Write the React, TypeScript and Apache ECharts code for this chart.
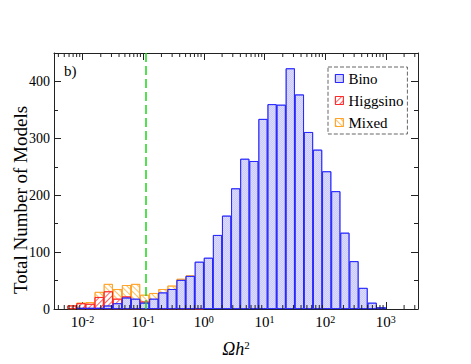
import React, { useEffect, useRef } from "react";
import * as echarts from "echarts";

// Histogram bins: lower edge of each bin in log10(Ωh²); all bins have the same width
const BIN_LOW_LOG10 = [
  -2.25, -2.1, -1.95, -1.8, -1.65, -1.5, -1.35, -1.2, -1.05, -0.9, -0.75, -0.6, -0.45, -0.3, -0.15,
  0, 0.15, 0.3, 0.45, 0.6, 0.75, 0.9, 1.05, 1.2, 1.35, 1.5, 1.65, 1.8, 1.95, 2.1, 2.25, 2.4, 2.55, 2.7, 2.85,
];
const BIN_WIDTH_LOG10 = 0.15;

const BINO = [
  0, 2, 2, 2, 6, 10, 20, 18, 11, 18, 29, 35, 51, 58, 83,
  90, 130, 164, 212, 264, 260, 334, 360, 359, 423, 377, 311, 280, 242, 207, 134, 84, 37, 11, 3,
];
const HIGGSINO = [
  6, 10, 9, 21, 31, 18, 22, 16, 13, 6, 5, 4, 3, 2, 1,
  0, 0, 0, 0, 0, 0, 0, 0, 0, 0, 0, 0, 0, 0, 0, 0, 0, 0, 0, 0,
];
const MIXED = [
  6, 11, 12, 30, 44, 35, 42, 44, 25, 28, 35, 41, 53, 59, 15,
  0, 0, 0, 0, 0, 0, 0, 0, 0, 0, 0, 0, 0, 0, 0, 0, 0, 0, 0, 0,
];

const Y_TICKS = [0, 100, 200, 300, 400];
const X_DECADES = [-2, -1, 0, 1, 2, 3];
const DASHED_AT = 0.11;

const XMIN_LOG = -2.47;
const XMAX_LOG = 3.53;

const FONT = "Liberation Serif";
const AXIS = "#222";

export default function App() {
  const ref = useRef<HTMLDivElement>(null);

  useEffect(() => {
    if (!ref.current) return;
    const chart = echarts.init(ref.current, undefined, { renderer: "svg" });

    const toData = (arr: number[]) =>
      BIN_LOW_LOG10.map((lo, i) => [lo + BIN_WIDTH_LOG10 / 2, arr[i] > 0 ? arr[i] : "-"]);

    const minorTicks: number[][] = [];
    for (let d = -3; d <= 3; d++) {
      for (let k = 2; k <= 9; k++) {
        const v = d + Math.log10(k);
        if (v > XMIN_LOG && v < XMAX_LOG) minorTicks.push([v, 0]);
      }
    }

    const logLabel = (v: number) => {
      const l = Math.log10(v);
      const e = Math.round(l);
      if (Math.abs(l - e) > 1e-6 || !X_DECADES.includes(e)) return "";
      return `{b|10}{s|${e}}`;
    };

    const barCommon = {
      type: "bar" as const,
      xAxisIndex: 0,
      yAxisIndex: 0,
      barWidth: "100%",
      barGap: "-100%",
    };

    const yCommon = {
      type: "value" as const,
      min: 0,
      max: 450,
      interval: 100,
      axisLine: { show: true, onZero: false, lineStyle: { color: AXIS, width: 1 } },
      axisTick: { show: true, inside: true, length: 7, lineStyle: { color: AXIS } },
      minorTick: { show: true, splitNumber: 2, length: 4, lineStyle: { color: AXIS } },
      splitLine: { show: false },
    };

    chart.setOption({
      animation: false,
      backgroundColor: "#fff",
      textStyle: { fontFamily: FONT },
      grid: { left: 54, right: 53, top: 53, bottom: 55, containLabel: false },
      legend: {
        data: ["Bino", "Higgsino", "Mixed"],
        orient: "vertical",
        left: 328,
        top: 67,
        icon: "rect",
        itemWidth: 8,
        itemHeight: 8,
        itemGap: 7,
        itemStyle: { borderWidth: 0.8 },
        padding: [4, 4, 4, 7],
        borderColor: "#666",
        borderWidth: 1,
        borderType: "dashed",
        textStyle: { fontFamily: FONT, fontSize: 15, color: "#000", lineHeight: 8 },
        selectedMode: false,
      },
      xAxis: [
        { type: "value", min: XMIN_LOG, max: XMAX_LOG, show: false },
        {
          type: "log",
          logBase: 10,
          min: Math.pow(10, XMIN_LOG),
          max: Math.pow(10, XMAX_LOG),
          position: "bottom",
          axisLine: { show: true, onZero: false, lineStyle: { color: AXIS, width: 1 } },
          axisTick: { show: true, inside: true, length: 7, lineStyle: { color: AXIS } },
          splitLine: { show: false },
          axisLabel: {
            show: true,
            margin: 5,
            fontFamily: FONT,
            color: "#000",
            formatter: logLabel,
            rich: {
              b: { fontFamily: FONT, fontSize: 15, color: "#000", lineHeight: 15, verticalAlign: "bottom", padding: [6, 0, 0, 0] },
              s: { fontFamily: FONT, fontSize: 10, color: "#000", lineHeight: 10, verticalAlign: "top" },
            },
          },
          name: "{i|Ωh}{s|2}",
          nameLocation: "middle",
          nameGap: 27,
          nameTextStyle: {
            fontFamily: FONT,
            color: "#000",
            rich: {
              i: { fontFamily: FONT, fontSize: 18, fontStyle: "italic", color: "#000", lineHeight: 18, verticalAlign: "bottom", padding: [6, 0, 0, 0] },
              s: { fontFamily: FONT, fontSize: 11, color: "#000", lineHeight: 11, verticalAlign: "top" },
            },
          },
        },
        {
          type: "log",
          logBase: 10,
          min: Math.pow(10, XMIN_LOG),
          max: Math.pow(10, XMAX_LOG),
          position: "top",
          axisLine: { show: true, onZero: false, lineStyle: { color: AXIS, width: 1 } },
          axisTick: { show: true, inside: true, length: 7, lineStyle: { color: AXIS } },
          splitLine: { show: false },
          axisLabel: { show: false },
        },
      ],
      yAxis: [
        {
          ...yCommon,
          position: "left",
          axisLabel: {
            margin: 4,
            fontFamily: FONT,
            fontSize: 14,
            color: "#000",
            formatter: (v: number) => (Y_TICKS.includes(v) ? String(v) : ""),
          },
        },
        {
          ...yCommon,
          position: "right",
          axisLabel: { show: false },
        },
      ],
      graphic: [
        {
          type: "text",
          x: 20,
          y: 200,
          rotation: Math.PI / 2,
          style: {
            text: "Total Number of Models",
            font: `19px '${FONT}'`,
            fill: "#000",
            textAlign: "center",
            textVerticalAlign: "middle",
          },
        },
        {
          type: "text",
          x: 64,
          y: 71,
          style: { text: "b)", font: `15px '${FONT}'`, fill: "#000", textVerticalAlign: "middle" },
        },
      ],
      series: [
        {
          ...barCommon,
          name: "Mixed",
          data: toData(MIXED),
          itemStyle: {
            color: "#fff",
            borderColor: "#ffa020",
            borderWidth: 0.8,
            decal: {
              symbol: "rect",
              symbolSize: 1,
              color: "#ffc060",
              dashArrayX: [1, 0],
              dashArrayY: [1, 3],
              rotation: Math.PI / 4,
            },
          },
        },
        {
          ...barCommon,
          name: "Higgsino",
          data: toData(HIGGSINO),
          itemStyle: {
            color: "#fff",
            borderColor: "#ff2020",
            borderWidth: 0.8,
            decal: {
              symbol: "rect",
              symbolSize: 1,
              color: "#ff6060",
              dashArrayX: [1, 0],
              dashArrayY: [1, 3],
              rotation: -Math.PI / 4,
            },
          },
        },
        {
          ...barCommon,
          name: "Bino",
          data: toData(BINO),
          itemStyle: {
            color: "#dcdcfa",
            borderColor: "#2020ff",
            borderWidth: 0.8,
            decal: {
              symbol: "rect",
              symbolSize: 0.6,
              color: "#a0a0f4",
              dashArrayX: [[1, 1], [0, 1, 1, 0]],
              dashArrayY: [1, 0],
            },
          },
          markLine: {
            silent: true,
            symbol: ["none", "none"],
            label: { show: false },
            lineStyle: { color: "#18d818", type: [9, 4], width: 1.5 },
            data: [{ xAxis: Math.log10(DASHED_AT) }],
          },
        },
        {
          type: "custom",
          xAxisIndex: 0,
          yAxisIndex: 0,
          silent: true,
          z: 10,
          data: minorTicks,
          encode: { x: 0, y: 1 },
          renderItem: (params: any, api: any) => {
            const p = api.coord([api.value(0), 0]);
            const cs = params.coordSys;
            const bottom = cs.y + cs.height;
            return {
              type: "group",
              children: [
                { type: "line", shape: { x1: p[0], y1: bottom, x2: p[0], y2: bottom - 4 }, style: { stroke: AXIS, lineWidth: 1 } },
                { type: "line", shape: { x1: p[0], y1: cs.y, x2: p[0], y2: cs.y + 4 }, style: { stroke: AXIS, lineWidth: 1 } },
              ],
            };
          },
        },
      ],
    });

    return () => chart.dispose();
  }, []);

  return (
    <div
      ref={ref}
      style={{ position: "fixed", left: 0, top: 0, width: 471, height: 364, background: "#fff" }}
    />
  );
}
